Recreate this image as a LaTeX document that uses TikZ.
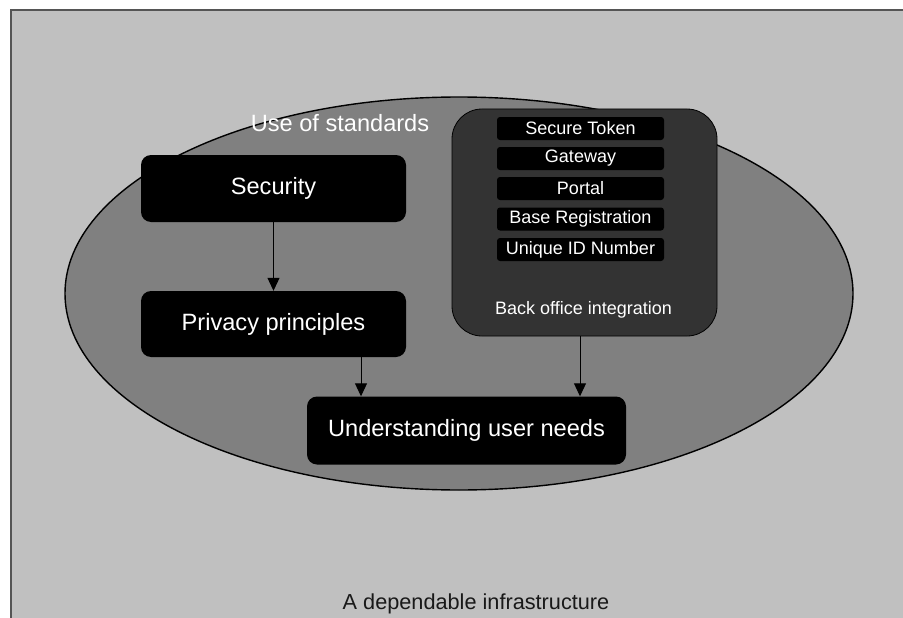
\documentclass[tikz,border=0pt]{standalone}
\usepackage{fontspec}
\setmainfont{Liberation Sans}
\usetikzlibrary{arrows.meta,calc}
\definecolor{panel}{HTML}{C0C0C0}
\definecolor{panelrule}{HTML}{555555}
\definecolor{disc}{HTML}{808080}
\definecolor{office}{HTML}{333333}
\begin{document}
\begin{tikzpicture}[x=1pt,y=-1pt,
  blackbox/.style={draw=none,fill=black,rounded corners=10pt,text=white,
    font=\fontsize{23.6}{26}\selectfont,inner sep=0pt},
  itembox/.style={fill=black,rounded corners=3pt,text=white,
    minimum width=167pt,minimum height=23pt,inner sep=0pt,
    font=\fontsize{18}{20}\selectfont},
  arr/.style={-{Triangle[length=13pt,width=12pt]},line width=1pt,draw=black}]
\useasboundingbox (0,0) rectangle (903,618);
% outer panel
\fill[panel] (11,10.5) rectangle (910,625);
\draw[panelrule,line width=2pt] (11,625) -- (11,10.5) -- (910,10.5);
% standards ellipse
\draw[fill=disc,line width=1.4pt] (459,293.5) ellipse [x radius=394, y radius=196.5];
\node[text=white,font=\fontsize{23.6}{26}\selectfont] (std) at (340,123) {Use of standards};
% left column
\node[blackbox,minimum width=265pt,minimum height=67pt] (sec) at (273.5,188.5) {Security};
\node[blackbox,minimum width=265pt,minimum height=66pt] (priv) at (273.5,324) {Privacy principles};
\node[blackbox,minimum width=319pt,minimum height=68pt] (und) at (466.5,430.5) {Understanding user needs};
% back office block
\node[draw=black,line width=0.8pt,fill=office,rounded corners=30pt,
  minimum width=265pt,minimum height=227pt] (back) at (584.5,222.5) {};
\node[itembox] (tok) at (580.5,128.5) {Secure Token};
\node[itembox] (gw) at (580.5,158.5) {Gateway};
\node[itembox] (por) at (580.5,188.5) {Portal};
\node[itembox] (reg) at (580.5,219) {Base Registration};
\node[itembox] (uid) at (580.5,249.5) {Unique ID Number};
\node[text=white,font=\fontsize{18}{20}\selectfont] (boi) at (583.5,310) {Back office integration};
% connectors
\draw[arr] (sec.south) -- (priv.north);
\draw[arr] ([xshift=87.5pt]priv.south) -- ([xshift=87.5pt]priv.south |- und.north);
\draw[arr] ([xshift=-4.5pt]back.south) -- ([xshift=-4.5pt]back.south |- und.north);
% caption
\node[text=black!90,font=\fontsize{21.7}{24}\selectfont] (cap) at (476,604) {A dependable infrastructure};
\end{tikzpicture}
\end{document}
